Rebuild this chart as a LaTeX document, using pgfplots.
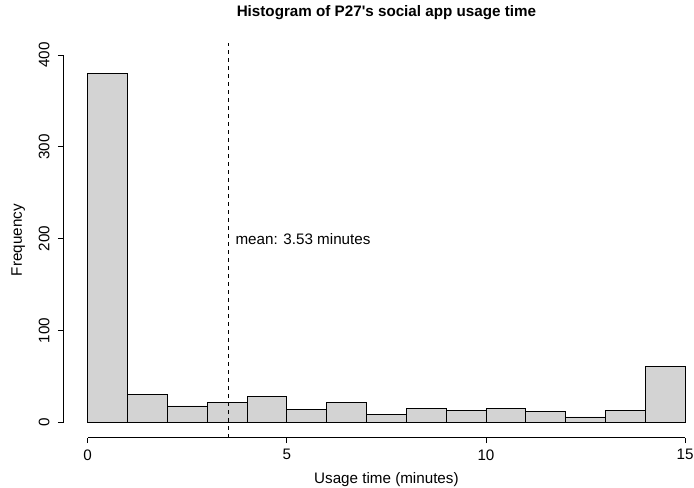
\documentclass[border=0pt]{standalone}
\usepackage{pgfplots}
\pgfplotsset{compat=1.18}
\usepackage{fontspec}
\setmainfont{Liberation Sans}
\definecolor{rgray}{HTML}{D3D3D3}
\begin{document}
\begin{tikzpicture}
\begin{axis}[
  at={(47.475pt,36.975pt)}, anchor=south west, scale only axis,
  width=484.65pt, height=296.25pt,
  xmin=-0.6128, xmax=15.6128, ymin=-16.54, ymax=413.4,
  axis lines*=left, axis line style={draw=none},
  clip=false,
  xtick={0,5,10,15}, ytick={0,100,200,300,400},
  minor tick num=0,
  tick align=outside, major tick length=4.1pt,
  tick style={black, line width=0.6pt},
  scaled ticks=false,
  /pgf/number format/assume math mode=true,
  ticklabel style={font=\fontsize{11.4}{13}\selectfont},
  xticklabel style={anchor=north, inner sep=0pt, yshift=-4.5pt},
  yticklabel style={rotate=90, anchor=south, inner sep=0pt, yshift=6pt},
  label style={font=\fontsize{11.4}{13}\selectfont},
  xlabel={Usage time (minutes)},
  xlabel style={at={(axis description cs:0.5,0)}, anchor=base, inner sep=0pt, yshift=-33.975pt},
  ylabel={Frequency},
  ylabel style={at={(axis description cs:0,0.5)}, anchor=base, inner sep=0pt, yshift=30.975pt},
  title={Histogram of P27\textquotesingle s social app usage time},
  title style={at={(axis description cs:0.5,1)}, anchor=base, inner sep=0pt, yshift=13.65pt, font=\bfseries\fontsize{11.4}{13}\selectfont},
]
\addplot[ybar interval, fill=rgray, draw=black, line width=0.6pt] coordinates {
 (0,380) (1,31) (2,18) (3,22) (4,28) (5,14) (6,22) (7,9) (8,15) (9,13)
 (10,15) (11,12) (12,6) (13,13) (14,61) (15,61)
};
\draw[black, line width=0.6pt] (axis cs:0,-16.54) -- (axis cs:15,-16.54);
\draw[black, line width=0.6pt] (axis cs:-0.6128,0) -- (axis cs:-0.6128,400);
\addplot[black, line width=0.6pt, dash pattern=on 3pt off 3pt] coordinates {(3.53,-16.54) (3.53,413.4)};
\node[anchor=west, inner sep=0pt, font=\fontsize{11.4}{13}\selectfont, xshift=5.25pt] at (axis cs:3.53,200) {mean: 3.53 minutes};
\end{axis}
\pgfresetboundingbox
\useasboundingbox (0,0) rectangle (520.5pt,365.25pt);
\end{tikzpicture}
\end{document}
